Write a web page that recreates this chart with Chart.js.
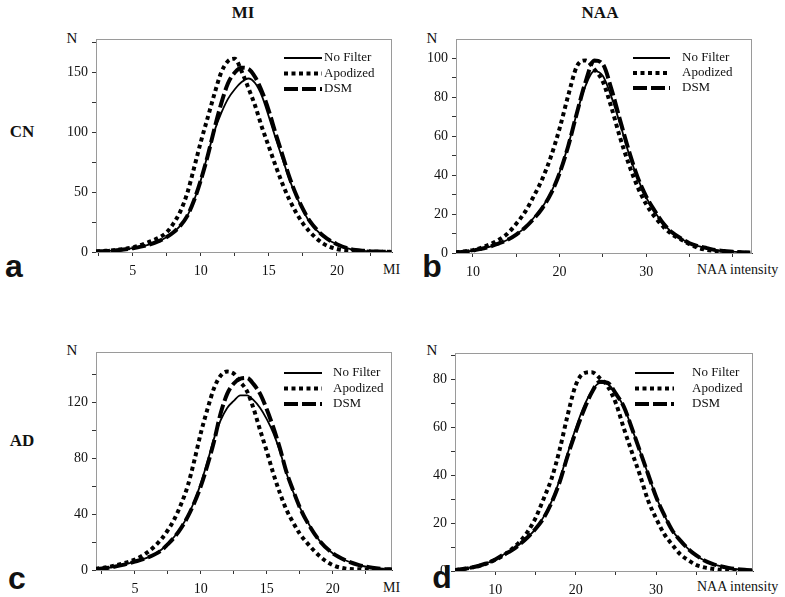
<!DOCTYPE html>
<html lang="en">
<head>
    <meta charset="UTF-8">
    <title>MI / NAA distributions</title>
    <style>
        body {
            margin: 0;
            padding: 0;
            background: #fff;
            width: 785px;
            height: 597px;
            position: relative;
            overflow: hidden;
            font-family: "Liberation Serif", "Times New Roman", serif;
            color: #111;
        }
        canvas {
            position: absolute;
        }
        .txt {
            position: absolute;
            transform: translate(-50%, -50%);
            white-space: nowrap;
        }
        .head {
            font-weight: bold;
            font-size: 17px;
        }
        .n {
            font-size: 15px;
        }
        .panel {
            font-family: "Liberation Sans", Arial, sans-serif;
            font-weight: bold;
            font-size: 32px;
        }
        .axname {
            position: absolute;
            font-size: 14px;
            transform: translateY(-50%);
            white-space: nowrap;
        }
    </style>
    <script src="https://cdn.jsdelivr.net/npm/chart.js"></script>
</head>
<body>

    <div class="txt head" style="left:243px; top:13px;">MI</div>
    <div class="txt head" style="left:600px; top:13px;">NAA</div>
    <div class="txt head" style="left:22px; top:132px;">CN</div>
    <div class="txt head" style="left:22px; top:441px;">AD</div>

    <div class="txt n" style="left:72px; top:38px;">N</div>
    <div class="txt n" style="left:432px; top:38px;">N</div>
    <div class="txt n" style="left:72px; top:350px;">N</div>
    <div class="txt n" style="left:432px; top:350px;">N</div>

    <div class="txt panel" style="left:14px; top:266px;">a</div>
    <div class="txt panel" style="left:432px; top:266px;">b</div>
    <div class="txt panel" style="left:17px; top:578px;">c</div>
    <div class="txt panel" style="left:442px; top:577px;">d</div>

    <div class="axname" style="left:383px; top:270px;">MI</div>
    <div class="axname" style="left:697px; top:270px;">NAA intensity</div>
    <div class="axname" style="left:383px; top:588px;">MI</div>
    <div class="axname" style="left:697px; top:587px;">NAA intensity</div>

    <canvas id="chartA" width="347" height="255" style="left:51px; top:33px;"></canvas>
    <canvas id="chartB" width="347" height="256" style="left:411px; top:33px;"></canvas>
    <canvas id="chartC" width="347" height="260" style="left:51px; top:346px;"></canvas>
    <canvas id="chartD" width="349" height="260" style="left:410px; top:347px;"></canvas>

    <script>
        // ---- data ----
        const seriesNames = ['No Filter', 'Apodized', 'DSM'];

        // a: CN, MI
        const aX = [2.3, 3, 4, 5, 6, 7, 7.5, 8, 8.5, 9, 9.5, 10, 10.5, 11, 11.5, 12, 12.5, 13, 13.5, 14, 14.5, 15, 15.5, 16, 16.5, 17, 17.5, 18, 19, 20, 21, 22, 23, 24];
        const aNoFilter = [0.4, 0.8, 1.6, 3.2, 5.5, 9.5, 12.5, 16.5, 22, 30, 43, 60, 81, 101, 116, 128, 136, 142, 145, 141, 130, 113, 95, 78, 61, 47, 35, 25, 13, 6.5, 2.5, 1, 0.4, 0.1];
        const aApodized = [0.5, 1, 2, 3.8, 7.5, 12.5, 16.5, 24, 34, 49, 70, 92, 112, 132, 150, 159.5, 161.5, 151, 137, 122, 104, 88, 72, 57, 44, 33, 24, 17, 7, 2.5, 1, 0.4, 0.2, 0.1];
        const aDSM = [0.4, 0.8, 1.6, 3.2, 5.5, 9.5, 12.5, 16.5, 22, 30, 43, 60, 80, 103, 124, 141, 150, 154, 153, 146, 134, 118, 99, 81, 63, 48, 36, 26, 13.5, 6.5, 2.5, 1, 0.4, 0.1];

        // b: CN, NAA
        const bX = [8, 9, 10, 11, 12, 13, 14, 15, 16, 17, 18, 19, 20, 21, 22, 23, 24, 25, 26, 27, 28, 29, 30, 31, 32, 33, 34, 35, 36, 37, 38, 39, 40, 41, 42];
        const bNoFilter = [0.3, 0.6, 1.2, 2.2, 3.3, 5, 6.8, 9.5, 13, 18, 23.5, 31, 41.5, 55.5, 72, 86, 93.5, 91, 80, 66, 51, 38.5, 28.5, 21, 15, 10.5, 7.5, 5, 3.5, 2.5, 1.5, 1, 0.7, 0.4, 0.2];
        const bApodized = [0.4, 0.8, 1.5, 2.8, 4.5, 6.8, 10, 15, 21, 29, 38, 49.5, 64, 81, 96, 99, 94.5, 88, 74.5, 59, 45.5, 34, 25, 18.5, 13.3, 9.5, 7, 4.5, 2.6, 1.6, 1, 0.6, 0.4, 0.2, 0.1];
        const bDSM = [0.3, 0.6, 1.2, 2.2, 3.3, 5, 6.8, 9.5, 13, 17.5, 23, 30.5, 41, 55, 72, 88, 99, 97, 84, 68, 52.5, 39, 29, 21.5, 15, 10.5, 7.5, 5, 3.5, 2.5, 1.5, 1, 0.7, 0.4, 0.2];

        // c: AD, MI
        const cX = [2, 3, 4, 5, 6, 7, 7.5, 8, 8.5, 9, 9.5, 10, 10.5, 11, 11.5, 12, 12.5, 13, 13.5, 14, 14.5, 15, 15.5, 16, 16.5, 17, 17.5, 18, 19, 20, 21, 22, 23, 24, 24.5];
        const cNoFilter = [0.6, 1.6, 3.5, 6, 9, 14.5, 19, 24, 30.5, 38.5, 49, 62, 77.5, 94, 107, 116, 121, 125, 125, 121.5, 116, 108, 98, 85, 69, 56, 45, 36, 21, 12, 6.8, 3.5, 1.6, 0.6, 0.4];
        const cApodized = [0.8, 2.2, 4.5, 7.5, 13, 22, 28.5, 36.5, 47, 60, 78, 98, 115, 130, 139, 142, 140.5, 134.5, 128, 115.5, 100, 85, 69, 55, 43, 34, 26, 20, 10, 3.5, 1, 0.5, 0.3, 0.1, 0.1];
        const cDSM = [0.6, 1.6, 3.5, 6, 9, 14, 18.5, 23.5, 30, 38, 48, 60, 75, 92, 112, 126, 133.5, 137, 137.5, 133, 126, 115, 102, 87, 70, 57, 45, 35.5, 21, 12, 6.8, 3.5, 1.6, 0.6, 0.4];

        // d: AD, NAA
        const dX = [5, 6, 7, 8, 9, 10, 11, 12, 13, 14, 15, 16, 17, 18, 19, 20, 21, 22, 23, 24, 25, 26, 27, 28, 29, 30, 31, 32, 33, 34, 35, 36, 37, 38, 39, 40, 41, 42];
        const dNoFilter = [0.4, 0.8, 1.4, 2.2, 3.3, 4.8, 6.8, 8.5, 11, 14, 17.5, 22.5, 29, 38, 49, 59.5, 68.5, 75, 78.5, 78, 74, 68.5, 59.5, 50, 40.5, 31, 23.5, 17, 12.8, 9.2, 6.5, 4.4, 3, 2, 1.3, 0.8, 0.5, 0.3];
        const dApodized = [0.4, 0.8, 1.4, 2.1, 3.2, 4.6, 6.5, 9, 12, 16.2, 22, 30, 38.5, 50.5, 65, 77.5, 82.5, 83, 80.5, 77, 70, 59.5, 49.5, 40, 29.5, 22, 15.5, 11, 7, 4.5, 2.5, 1.5, 0.9, 0.5, 0.3, 0.2, 0.1, 0.1];
        const dDSM = [0.4, 0.8, 1.4, 2.2, 3.3, 4.8, 6.8, 8.5, 11, 14, 17.5, 22, 28.5, 37, 48, 58, 67, 74.5, 79, 78.5, 74, 68.5, 59.5, 50, 40.5, 31, 23.5, 17, 12.8, 9.2, 6.5, 4.4, 3, 2, 1.3, 0.8, 0.5, 0.3];

        // tick positions and labelled ticks
        const miXTicks = [2.5, 5, 7.5, 10, 12.5, 15, 17.5, 20, 22.5];
        const miXLabels = [5, 10, 15, 20];
        const naaXTicks = [10, 15, 20, 25, 30, 35, 40];
        const naaXLabels = [10, 20, 30];
        const aYTicks = [0, 25, 50, 75, 100, 125, 150, 175];
        const aYLabels = [0, 50, 100, 150];
        const bYTicks = [0, 10, 20, 30, 40, 50, 60, 70, 80, 90, 100];
        const bYLabels = [0, 20, 40, 60, 80, 100];
        const cYTicks = [0, 20, 40, 60, 80, 100, 120, 140];
        const cYLabels = [0, 40, 80, 120];
        const dYTicks = [0, 10, 20, 30, 40, 50, 60, 70, 80, 90];
        const dYLabels = [0, 20, 40, 60, 80];

        // ---- styling ----
        const lineStyles = [
            { borderWidth: 1.8, borderDash: [] },
            { borderWidth: 4, borderDash: [4, 3.5] },
            { borderWidth: 4, borderDash: [14, 4] }
        ];
        const AXIS = '#333';
        const TICK_FONT = { family: '"Liberation Serif", "Times New Roman", serif', size: 14 };

        // grey box round the plot area
        const framePlugin = {
            id: 'frame',
            beforeDatasetsDraw(chart) {
                const a = chart.chartArea;
                const ctx = chart.ctx;
                ctx.save();
                ctx.strokeStyle = '#9a9a9a';
                ctx.lineWidth = 1;
                ctx.strokeRect(a.left + 0.5, a.top + 0.5, a.right - a.left - 1, a.bottom - a.top);
                ctx.restore();
            }
        };

        // legend drawn inside the plot, upper right
        const insideLegend = {
            id: 'insideLegend',
            afterDatasetsDraw(chart, args, opts) {
                const a = chart.chartArea;
                const ctx = chart.ctx;
                ctx.save();
                chart.data.datasets.forEach((ds, i) => {
                    const x0 = a.left + opts.left;
                    const y = a.top + opts.top + i * opts.rowGap;
                    ctx.beginPath();
                    ctx.setLineDash(ds.borderDash || []);
                    ctx.lineWidth = ds.borderWidth;
                    ctx.strokeStyle = ds.borderColor;
                    ctx.moveTo(x0, y);
                    ctx.lineTo(x0 + opts.lineLen, y);
                    ctx.stroke();
                    ctx.setLineDash([]);
                    ctx.fillStyle = '#111';
                    ctx.font = '13px "Liberation Serif", "Times New Roman", serif';
                    ctx.textBaseline = 'middle';
                    ctx.fillText(ds.label, x0 + opts.lineLen + opts.gap, y);
                });
                ctx.restore();
            }
        };

        function makeChart(id, xs, ys, xRange, yMax, xTicks, xLabels, yTicks, yLabels, legend) {
            const datasets = ys.map((vals, i) => ({
                label: seriesNames[i],
                data: xs.map((x, k) => ({ x: x, y: vals[k] })),
                showLine: true,
                borderColor: '#000',
                backgroundColor: '#000',
                borderWidth: lineStyles[i].borderWidth,
                borderDash: lineStyles[i].borderDash,
                borderCapStyle: 'butt',
                pointRadius: 0,
                tension: 0.4,
                cubicInterpolationMode: 'monotone'
            }));

            return new Chart(document.getElementById(id), {
                type: 'scatter',
                data: { datasets: datasets },
                plugins: [framePlugin, insideLegend],
                options: {
                    responsive: false,
                    animation: false,
                    layout: { padding: { top: 6, right: 6, left: 0, bottom: 0 } },
                    plugins: {
                        legend: { display: false },
                        tooltip: { enabled: false },
                        insideLegend: legend
                    },
                    scales: {
                        x: {
                            type: 'linear',
                            min: xRange[0],
                            max: xRange[1],
                            afterBuildTicks: s => { s.ticks = xTicks.map(v => ({ value: v })); },
                            afterFit: s => { s.height = 36; s.paddingLeft = 0; s.paddingRight = 0; },
                            border: { color: AXIS, width: 1 },
                            grid: { drawOnChartArea: false, drawTicks: true, tickLength: 4, color: AXIS },
                            ticks: {
                                font: TICK_FONT,
                                color: '#111',
                                padding: 7,
                                maxRotation: 0,
                                autoSkip: false,
                                callback: v => xLabels.includes(v) ? String(v) : ''
                            }
                        },
                        y: {
                            min: 0,
                            max: yMax,
                            afterBuildTicks: s => { s.ticks = yTicks.map(v => ({ value: v })); },
                            afterFit: s => { s.width = 45; s.paddingTop = 0; s.paddingBottom = 0; },
                            border: { color: AXIS, width: 1 },
                            grid: { drawOnChartArea: false, drawTicks: true, tickLength: 4, color: AXIS },
                            ticks: {
                                font: TICK_FONT,
                                color: '#111',
                                padding: 4,
                                autoSkip: false,
                                callback: v => yLabels.includes(v) ? String(v) : ''
                            }
                        }
                    }
                }
            });
        }

        makeChart('chartA', aX, [aNoFilter, aApodized, aDSM], [2.3, 24.05], 178,
            miXTicks, miXLabels, aYTicks, aYLabels,
            { left: 188, top: 19, rowGap: 15.5, lineLen: 38, gap: 2 });
        makeChart('chartB', bX, [bNoFilter, bApodized, bDSM], [8.05, 42.2], 110,
            naaXTicks, naaXLabels, bYTicks, bYLabels,
            { left: 177, top: 19, rowGap: 15, lineLen: 37, gap: 12 });
        makeChart('chartC', cX, [cNoFilter, cApodized, cDSM], [2.05, 24.5], 156,
            miXTicks, miXLabels, cYTicks, cYLabels,
            { left: 188, top: 21, rowGap: 15.5, lineLen: 38, gap: 11 });
        makeChart('chartD', dX, [dNoFilter, dApodized, dDSM], [5.0, 42.05], 91,
            naaXTicks, naaXLabels, dYTicks, dYLabels,
            { left: 180, top: 20, rowGap: 15.5, lineLen: 39, gap: 18 });
    </script>
</body>
</html>
